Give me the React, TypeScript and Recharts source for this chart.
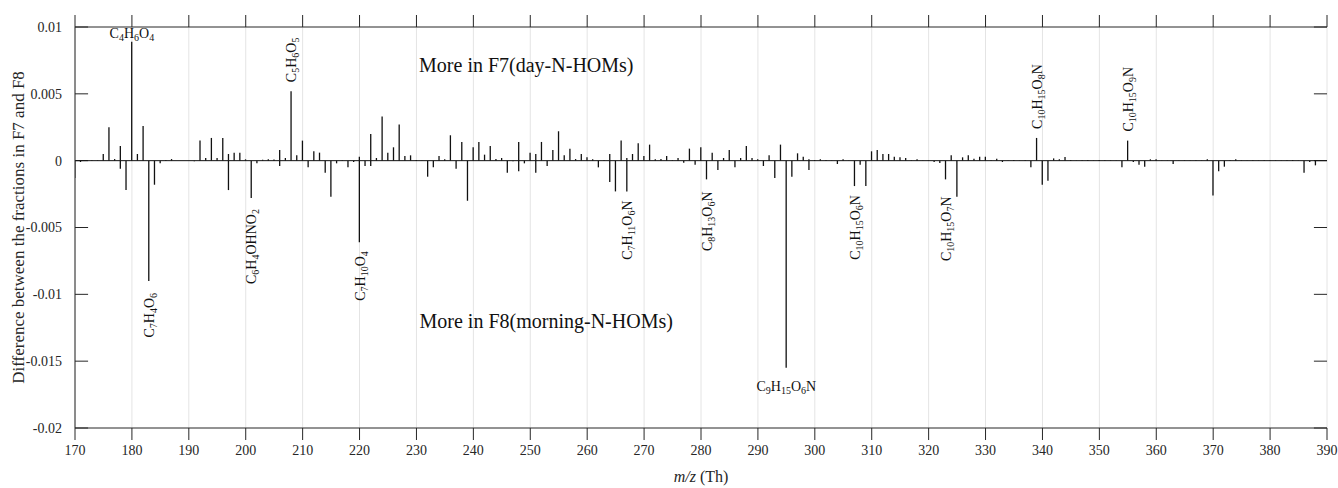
import { ComposedChart, Bar, XAxis, YAxis, CartesianGrid, ReferenceLine, ReferenceDot, Label } from 'recharts';

const FONT = '"Liberation Serif", "DejaVu Serif", serif';
const INK = '#262626';

// m/z axis ticks and y ticks
const xTicks = [170, 180, 190, 200, 210, 220, 230, 240, 250, 260, 270, 280, 290, 300, 310, 320, 330, 340, 350, 360, 370, 380, 390];
const yTicks = [-0.02, -0.015, -0.01, -0.005, 0, 0.005, 0.01];

// difference F7 - F8, one value per nominal mass starting at 170
const mzStart = 170;
const diff = [
  -0.0013, -0.0001, 0.00003, 0.00003, 0.00003, 0.0005, 0.0025, 0.00012, 0.0011, -0.0022, // 170-179
  0.0089, 0.0005, 0.0026, -0.009, -0.0018, -0.0002, 0.00005, 0.00012, 0, 0, // 180-189
  0, -0.00005, 0.0015, 0.0002, 0.0017, 0.0002, 0.0017, -0.0022, 0.0006, 0.0006, // 190-199
  0.0001, -0.0028, -0.0002, 0.00007, 0.0001, 0.00008, 0.0008, 0.0002, 0.0052, 0.0004, // 200-209
  0.0015, -0.0005, 0.0007, 0.0006, -0.0009, -0.0027, -0.0002, 0.00003, -0.0005, -0.0001, // 210-219
  -0.0061, -0.0004, 0.002, 0.0002, 0.0033, 0.0006, 0.001, 0.0027, 0.00035, 0.0004, // 220-229
  0.00005, 0.00002, -0.0012, -0.0005, 0.00035, 0.0001, 0.0019, -0.0006, 0.0014, -0.003, // 230-239
  0.001, 0.0014, 0.00045, 0.0011, 0.00012, 0.0002, -0.0009, -0.00005, 0.0014, -0.0002, // 240-249
  0.0006, -0.0009, 0.0014, -0.0004, 0.0008, 0.0022, 0.0004, 0.0009, 0.00012, 0.0005, // 250-259
  0.00025, 0.0001, -0.0005, 0.00003, -0.0016, -0.0023, 0.0015, -0.0023, 0.0005, 0.0013, // 260-269
  0.00035, 0.0012, 0.0001, 0.00012, 0.00035, 0.00003, 0.0002, -0.00015, 0.0009, -0.0003, // 270-279
  0.001, -0.0014, 0.0006, -0.0007, 0.0002, 0.0008, -0.0005, 0.0002, 0.0011, 0.0002, // 280-289
  0.0001, -0.0004, 0.0004, -0.0013, 0.0012, -0.0155, -0.0012, 0.00055, 0.0003, -0.0007, // 290-299
  0.00005, 0.0001, 0.00005, 0.00002, -0.00025, 0.0001, 0.00002, -0.0019, -0.0003, -0.0019, // 300-309
  0.0007, 0.0008, 0.0005, 0.0005, 0.0003, 0.00025, 0.0002, 0.00003, 0.0001, 0.00002, // 310-319
  0.00002, -0.0001, -0.00018, -0.0014, 0.0004, -0.0027, 0.00025, 0.0004, 0.00015, 0.0003, // 320-329
  0.0003, 0.00003, 0.00015, -0.0001, 0.00002, 0.00005, 0.00002, 0.00003, -0.0005, 0.0017, // 330-339
  -0.0018, -0.0015, 0.00017, 0.0001, 0.00027, 0.00005, 0.00002, 0.00003, 0.00005, 0.00002, // 340-349
  0.00005, 0.00003, 0.00003, 0.00002, -0.0005, 0.0015, -0.0001, -0.0003, -0.00045, 0.0001, // 350-359
  0.0001, 0.00002, 0.00002, -0.00025, 0.00002, 0.00003, 0.00002, 0.00003, 0.00002, 0.0001, // 360-369
  -0.0026, -0.0008, -0.00045, 0.00003, 0.0001, 0.00003, 0.00002, 0.00003, 0.00002, 0.00003, // 370-379
  0.00002, 0.00003, 0.00002, 0.00003, 0.00005, 0.00002, -0.0009, -0.0001, -0.00035, 0.00002, // 380-389
];
const mz = diff.map((_, i) => mzStart + i);

// second ion at the same nominal mass
const extraMz = [178, 197, 206, 220, 222, 248, 251, 264, 267, 299];
const extraDiff = [-0.0006, 0.0005, -0.0004, 0.0003, -0.0004, -0.0008, 0.0005, 0.0005, 0.0002, 0.0001];

const data = [
  ...mz.map((m, i) => ({ mz: m, diff: diff[i] })),
  ...extraMz.map((m, i) => ({ mz: m, diff: extraDiff[i] })),
].sort((a, b) => a.mz - b.mz);

// annotated peaks
const labelMz = [180, 208, 339, 355, 183, 201, 220, 267, 281, 307, 323, 295];
const labelText = ['C4H6O4', 'C5H6O5', 'C10H15O8N', 'C10H15O9N', 'C7H4O6', 'C6H4OHNO2', 'C7H10O4', 'C7H11O6N', 'C8H13O6N', 'C10H15O6N', 'C10H15O7N', 'C9H15O6N'];
const labelKind: Record<string, string> = {
  C4H6O4: 'above', C9H15O6N: 'below',
  C5H6O5: 'up', C10H15O8N: 'up', C10H15O9N: 'up',
};
const labelGap: Record<string, number> = { C7H4O6: 12, C8H13O6N: 12, C10H15O7N: 17, C6H4OHNO2: 11 };

function spans(text: string) {
  const parts = text.match(/\d+|\D+/g) || [];
  let low = false;
  return parts.map((p, i) => {
    const num = /\d/.test(p);
    const dy = num ? (low ? 0 : 3) : low ? -3 : 0;
    low = num;
    return (
      <tspan key={i} dy={dy} fontSize={num ? 10 : undefined}>
        {p}
      </tspan>
    );
  });
}

const formulaLabel = (text: string) => (props: any) => {
  const vb = props.viewBox || {};
  const cx = vb.x + (vb.width || 0) / 2;
  const cy = vb.y + (vb.height || 0) / 2;
  const kind = labelKind[text] || 'down';
  const gap = labelGap[text] ?? 9;
  const common = { fontFamily: FONT, fontSize: 14, fill: '#111' };
  if (kind === 'above') {
    return <text x={cx} y={cy - 4} textAnchor="middle" {...common}>{spans(text)}</text>;
  }
  if (kind === 'below') {
    return <text x={cx} y={cy + 23} textAnchor="middle" {...common}>{spans(text)}</text>;
  }
  const y0 = kind === 'up' ? cy - gap : cy + gap;
  return (
    <text
      transform={`translate(${cx},${y0}) rotate(-90)`}
      x={0}
      y={5}
      textAnchor={kind === 'up' ? 'start' : 'end'}
      {...common}
    >
      {spans(text)}
    </text>
  );
};

const noteLabel = (text: string) => (props: any) => {
  const vb = props.viewBox || {};
  return (
    <text x={vb.x + (vb.width || 0) / 2} y={vb.y + (vb.height || 0) / 2} textAnchor="middle" fontFamily={FONT} fontSize={20} fill="#111">
      {text}
    </text>
  );
};

const yTitle = (props: any) => {
  const vb = props.viewBox || {};
  const cy = vb.y + vb.height / 2;
  return (
    <text transform={`translate(24,${cy}) rotate(-90)`} textAnchor="middle" fontFamily={FONT} fontSize={17} fill={INK}>
      Difference between the fractions in F7 and F8
    </text>
  );
};

const xTitle = (props: any) => {
  const vb = props.viewBox || {};
  const cx = vb.x + vb.width / 2;
  return (
    <text x={cx} y={482} textAnchor="middle" fontFamily={FONT} fontSize={16} fill={INK}>
      <tspan fontStyle="italic">m/z</tspan>
      <tspan> (Th)</tspan>
    </text>
  );
};

// inward tick length in data units (about 13 px)
const tickLen = 2.3;

export default function App() {
  return (
    <div style={{ position: 'absolute', left: 0, top: 0, background: '#fff' }}>
      <ComposedChart width={1338} height={488} data={data} margin={{ top: 15, right: 11, left: 0, bottom: 0 }}>
        <CartesianGrid horizontal={false} stroke="#e4e4e4" />
        <XAxis
          dataKey="mz"
          type="number"
          domain={[170, 390]}
          ticks={xTicks}
          interval={0}
          allowDataOverflow
          height={60}
          tickSize={12}
          tickMargin={5}
          stroke={INK}
          tick={{ fill: INK, fontSize: 14, fontFamily: FONT }}
        >
          <Label content={xTitle} />
        </XAxis>
        <XAxis
          xAxisId="top"
          orientation="top"
          dataKey="mz"
          type="number"
          domain={[170, 390]}
          ticks={xTicks}
          interval={0}
          allowDataOverflow
          height={12}
          tickSize={12}
          tickFormatter={() => ''}
          stroke={INK}
        />
        <YAxis
          domain={[-0.02, 0.01]}
          ticks={yTicks}
          interval={0}
          allowDataOverflow
          width={75}
          tickLine={false}
          tickMargin={7}
          stroke={INK}
          tick={{ fill: INK, fontSize: 14, fontFamily: FONT }}
        >
          <Label content={yTitle} />
        </YAxis>
        <YAxis
          yAxisId="right"
          orientation="right"
          domain={[-0.02, 0.01]}
          ticks={yTicks}
          allowDataOverflow
          width={0}
          tickLine={false}
          tick={false}
          stroke={INK}
        />
        {yTicks.map((v) => (
          <ReferenceLine key={`l${v}`} segment={[{ x: 170, y: v }, { x: 170 + tickLen, y: v }]} stroke={INK} />
        ))}
        {yTicks.map((v) => (
          <ReferenceLine key={`r${v}`} segment={[{ x: 390 - tickLen, y: v }, { x: 390, y: v }]} stroke={INK} />
        ))}
        <ReferenceLine y={0} stroke="#111" strokeWidth={1} />
        <Bar dataKey="diff" fill="#111" barSize={1.3} isAnimationActive={false} />
        {labelMz.map((m, i) => (
          <ReferenceDot
            key={labelText[i]}
            x={m}
            y={diff[m - mzStart]}
            r={0}
            fill="none"
            stroke="none"
            ifOverflow="visible"
            label={formulaLabel(labelText[i])}
          />
        ))}
        <ReferenceDot x={249.3} y={0.0066} r={0} fill="none" stroke="none" label={noteLabel('More in F7(day-N-HOMs)')} />
        <ReferenceDot x={252.8} y={-0.0125} r={0} fill="none" stroke="none" label={noteLabel('More in F8(morning-N-HOMs)')} />
      </ComposedChart>
    </div>
  );
}
